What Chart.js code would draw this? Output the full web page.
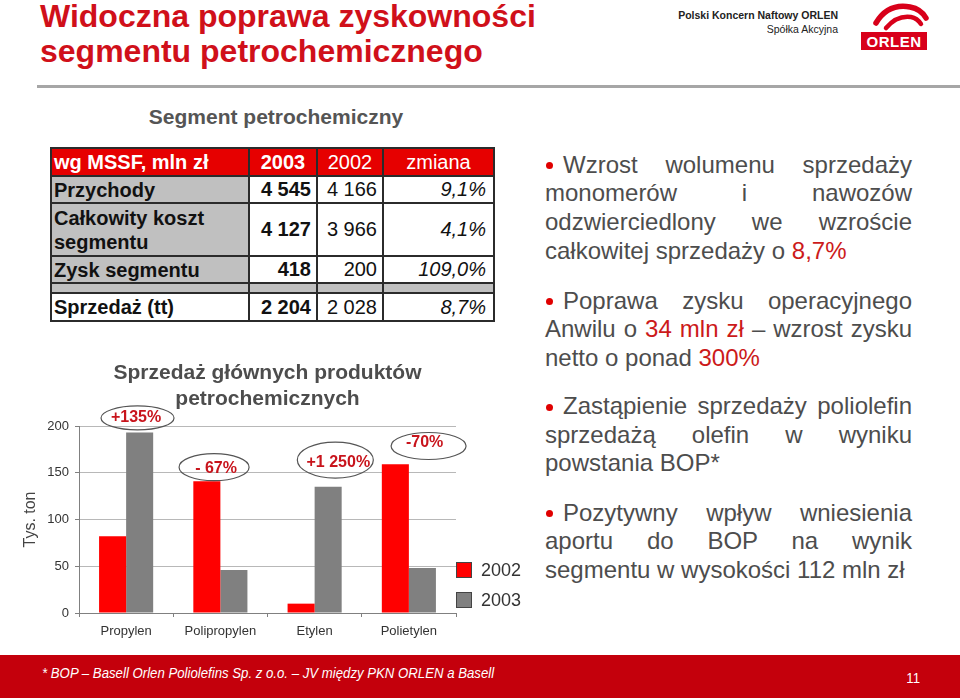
<!DOCTYPE html>
<html><head><meta charset="utf-8">
<script src="https://cdn.jsdelivr.net/npm/chart.js@4/dist/chart.umd.min.js"></script>
<style>
html,body{margin:0;padding:0;}
body{width:960px;height:700px;position:relative;overflow:hidden;background:#fff;font-family:"Liberation Sans",Arial,sans-serif;}
.abs{position:absolute;}
#title{left:40px;top:-1px;color:#d0101a;font-weight:bold;font-size:32px;line-height:35px;white-space:nowrap;}
#rule{left:37px;top:85px;width:923px;height:3px;background:#a6a6a6;}
#seg{left:100px;width:352px;text-align:center;top:104px;font-weight:bold;font-size:21px;line-height:26px;color:#555;}
#tbl{position:absolute;left:50px;top:147px;border-collapse:collapse;table-layout:fixed;font-size:20px;color:#111;}
#tbl td{border:2px solid #2b2b2b;padding:0;white-space:nowrap;overflow:hidden;}
#tbl td.l{text-align:left;padding-left:2px;white-space:normal;line-height:24px;}
#tbl td.c{text-align:center;}
#tbl td.r{text-align:right;padding-right:5px;}
#tbl td.ri{text-align:right;padding-right:7px;font-style:italic;}
#tbl tr.hd td{background:#e60000;color:#fff;}
#tbl td.g{background:#c0c0c0;}
#tbl td.b{font-weight:bold;}
#chartBox{left:0;top:350px;width:540px;height:300px;}
.leg{position:absolute;left:456px;width:14px;height:14px;border:1px solid #444;}
.legt{position:absolute;left:481px;font-size:18px;line-height:20px;color:#333;}
.ln{position:absolute;left:563px;width:349px;font-size:24px;line-height:29px;color:#4d4d4d;}
.ln.f{left:545px;width:367px;}
.ln.j{text-align:justify;text-align-last:justify;}
.ln .red{color:#cc1a1a;}
.dot{position:absolute;left:546px;width:7px;height:7px;border-radius:50%;background:#e00000;}
#footer{left:0;top:655px;width:960px;height:43px;background:#c4000c;}
#fnote{left:42px;top:664px;color:#fff;font-style:italic;font-size:15px;line-height:18px;white-space:nowrap;transform:scaleX(0.88);transform-origin:0 0;}
#pnum{left:896px;top:669px;width:24px;text-align:right;color:#fff;font-size:15px;line-height:18px;transform:scaleX(0.88);transform-origin:100% 0;}
#co1{left:640px;width:198px;text-align:right;top:9px;font-size:10.5px;font-weight:bold;color:#222;line-height:13px;white-space:nowrap;}
#co2{left:640px;width:198px;text-align:right;top:23px;font-size:10.5px;color:#222;line-height:13px;}
</style></head>
<body>
<div id="title" class="abs">Widoczna poprawa zyskowności<br>segmentu petrochemicznego</div>
<div id="rule" class="abs"></div>
<div id="co1" class="abs">Polski Koncern Naftowy ORLEN</div>
<div id="co2" class="abs">Spółka Akcyjna</div>
<svg class="abs" style="left:850px;top:0" width="110" height="60">
  <path d="M26,23 Q38,3 60,7 Q71,9 76,18" stroke="#d8001a" stroke-width="5.5" fill="none" stroke-linecap="round"/>
  <path d="M36,28 Q47,15 61,17 Q67,18 71,24" stroke="#d8001a" stroke-width="4.5" fill="none" stroke-linecap="round"/>
  <rect x="11" y="32" width="66" height="18" fill="#d8001a"/>
  <text x="44" y="46.5" fill="#fff" font-weight="bold" font-size="15" text-anchor="middle" font-family="Liberation Sans" letter-spacing="0.5">ORLEN</text>
</svg>
<div id="seg" class="abs">Segment petrochemiczny</div>
<table id="tbl"></table>
<div id="chartBox" class="abs"><canvas id="c" width="540" height="300"></canvas></div>
<div id="legend"></div>
<div id="bullets"></div>
<div id="footer" class="abs"></div>
<div id="fnote" class="abs">* BOP – Basell Orlen Poliolefins Sp. z o.o. – JV między PKN ORLEN a Basell</div>
<div id="pnum" class="abs">11</div>
<script>
// ---- data ----
const categories = ['Propylen', 'Polipropylen', 'Etylen', 'Polietylen'];
const sales2002 = [82, 141, 10, 159];
const sales2003 = [193, 46, 135, 48];
const seriesNames = ['2002', '2003'];
const seriesColors = ['#ff0000', '#808080'];
const changeLabels = ['+135%', '- 67%', '+1 250%', '-70%'];
const yTickValues = [0, 50, 100, 150, 200];
const chartTitle = ['Sprzedaż głównych produktów', 'petrochemicznych'];
const yAxisTitle = 'Tys. ton';

const tableHeader = ['wg MSSF, mln zł', '2003', '2002', 'zmiana'];
const tableRowLabels = ['Przychody', 'Całkowity koszt segmentu', 'Zysk segmentu', '', 'Sprzedaż (tt)'];
const table2003 = ['4 545', '4 127', '418', '', '2 204'];
const table2002 = ['4 166', '3 966', '200', '', '2 028'];
const tableChange = ['9,1%', '4,1%', '109,0%', '', '8,7%'];

// ---- table ----
(function(){
  const t = document.getElementById('tbl');
  const widths = [198, 68, 66, 111];
  const heights = [28, 27, 53, 27, 10, 28];
  let h = '<colgroup>' + widths.map(w => '<col style="width:' + w + 'px">').join('') + '</colgroup>';
  h += '<tr class="hd" style="height:' + heights[0] + 'px"><td class="l b">' + tableHeader[0] + '</td><td class="c b">' + tableHeader[1] +
       '</td><td class="c">' + tableHeader[2] + '</td><td class="c">' + tableHeader[3] + '</td></tr>';
  const nb = s => s.replace(/ /g, '\u00a0');
  tableRowLabels.forEach((lab, i) => {
    const gap = lab === '';
    const gcls = (i < 3 || gap) ? ' g' : '';
    const all = gap ? ' g' : '';
    h += '<tr style="height:' + heights[i + 1] + 'px"><td class="l b' + gcls + '">' + lab + '</td>' +
         '<td class="r b' + all + '">' + nb(table2003[i]) + '</td>' +
         '<td class="r' + all + '">' + nb(table2002[i]) + '</td>' +
         '<td class="ri' + all + '">' + tableChange[i] + '</td></tr>';
  });
  t.innerHTML = h;
})();

// ---- bullets ----
const bulletLines = [
  [164, 'Wzrost wolumenu sprzedaży', 'jb'],
  [192.5, 'monomerów i nawozów', 'jf'],
  [221.5, 'odzwierciedlony we wzroście', 'jf'],
  [250.5, 'całkowitej sprzedaży o <span class="red">8,7%</span>', 'f'],
  [300, 'Poprawa zysku operacyjnego', 'jb'],
  [328.5, 'Anwilu o <span class="red">34 mln zł</span> – wzrost zysku', 'jf'],
  [357, 'netto o ponad <span class="red">300%</span>', 'f'],
  [405.5, 'Zastąpienie sprzedaży poliolefin', 'jb'],
  [434, 'sprzedażą olefin w wyniku', 'jf'],
  [462.5, 'powstania BOP*', 'f'],
  [512, 'Pozytywny wpływ wniesienia', 'jb'],
  [540.5, 'aportu do BOP na wynik', 'jf'],
  [569, 'segmentu w wysokości 112 mln zł', 'f']
];
(function(){
  let h = '';
  bulletLines.forEach(([cy, txt, kind]) => {
    let cls = 'ln';
    if (kind[0] === 'j') cls += ' j';
    if (kind.indexOf('f') >= 0) cls += ' f';
    h += '<div class="' + cls + '" style="top:' + (cy - 14.5) + 'px">' + txt + '</div>';
    if (kind === 'jb') h += '<div class="dot" style="top:' + (cy - 2) + 'px"></div>';
  });
  document.getElementById('bullets').innerHTML = h;
})();

// ---- legend ----
(function(){
  const tops = [562, 592];
  let h = '';
  seriesNames.forEach((n, i) => {
    h += '<div class="leg" style="top:' + tops[i] + 'px;background:' + seriesColors[i] + '"></div>' +
         '<div class="legt" style="top:' + (tops[i] - 2) + 'px">' + n + '</div>';
  });
  document.getElementById('legend').innerHTML = h;
})();

// ---- chart ----
const ovalStyle = [
  {dx: 11.4, v: 208.6, w: 73, h: 24, tx: -1.5, ty: 0},
  {dx: -6.3, v: 156,   w: 70, h: 27, tx: 2,    ty: 1},
  {dx: 20.7, v: 163.6, w: 76, h: 36, tx: 3,    ty: 3},
  {dx: 19.7, v: 178.6, w: 75, h: 27, tx: -4,   ty: -3}
];
const ovalPlugin = {
  id: 'ovals',
  afterDatasetsDraw(chart) {
    const {ctx, scales: {x, y}} = chart;
    ctx.save();
    changeLabels.forEach((lab, i) => {
      const s = ovalStyle[i];
      const cx = x.getPixelForValue(i) + s.dx;
      const cy = y.getPixelForValue(s.v);
      ctx.beginPath();
      ctx.ellipse(cx, cy, s.w / 2, s.h / 2, 0, 0, Math.PI * 2);
      ctx.strokeStyle = '#555';
      ctx.lineWidth = 1.2;
      ctx.stroke();
      ctx.fillStyle = '#c8141c';
      ctx.font = 'bold 16px "Liberation Sans", Arial, sans-serif';
      ctx.textAlign = 'center';
      ctx.textBaseline = 'middle';
      ctx.fillText(lab, cx + s.tx, cy + s.ty);
    });
    ctx.restore();
  }
};

new Chart(document.getElementById('c'), {
  type: 'bar',
  data: {
    labels: categories,
    datasets: [
      {label: seriesNames[0], data: sales2002, backgroundColor: seriesColors[0], borderWidth: 0},
      {label: seriesNames[1], data: sales2003, backgroundColor: seriesColors[1], borderWidth: 0}
    ]
  },
  options: {
    responsive: false,
    devicePixelRatio: 1,
    animation: false,
    layout: {padding: {left: 0, right: 84, top: 0, bottom: 0}},
    datasets: {bar: {categoryPercentage: 0.574, barPercentage: 1}},
    plugins: {
      legend: {display: false},
      tooltip: {enabled: false},
      title: {
        display: true,
        text: chartTitle,
        fullSize: false,
        color: '#4d4d4d',
        font: {family: '"Liberation Sans", Arial, sans-serif', size: 21, weight: 'bold', lineHeight: 25.5 / 21},
        padding: {top: 10.75, bottom: 14.25}
      }
    },
    scales: {
      x: {
        afterFit(s) { s.height = 37; },
        grid: {display: true, drawOnChartArea: false, drawTicks: true, tickLength: 4, tickColor: '#808080', color: '#808080'},
        border: {display: true, color: '#808080', width: 1},
        ticks: {color: '#333', padding: 7, font: {family: '"Liberation Sans", Arial, sans-serif', size: 13}}
      },
      y: {
        min: 0, max: 200,
        afterFit(s) { s.width = 79; },
        afterBuildTicks(s) { s.ticks = yTickValues.map(v => ({value: v})); },
        grid: {color: '#b8b8b8', lineWidth: 1, drawTicks: true, tickLength: 4, tickColor: '#808080'},
        border: {display: true, color: '#808080', width: 1},
        ticks: {color: '#333', padding: 6, font: {family: '"Liberation Sans", Arial, sans-serif', size: 13}},
        title: {display: true, text: yAxisTitle, color: '#444', padding: {top: 21, bottom: 0},
                font: {family: '"Liberation Sans", Arial, sans-serif', size: 16}}
      }
    }
  },
  plugins: [ovalPlugin]
});
</script>
</body></html>
